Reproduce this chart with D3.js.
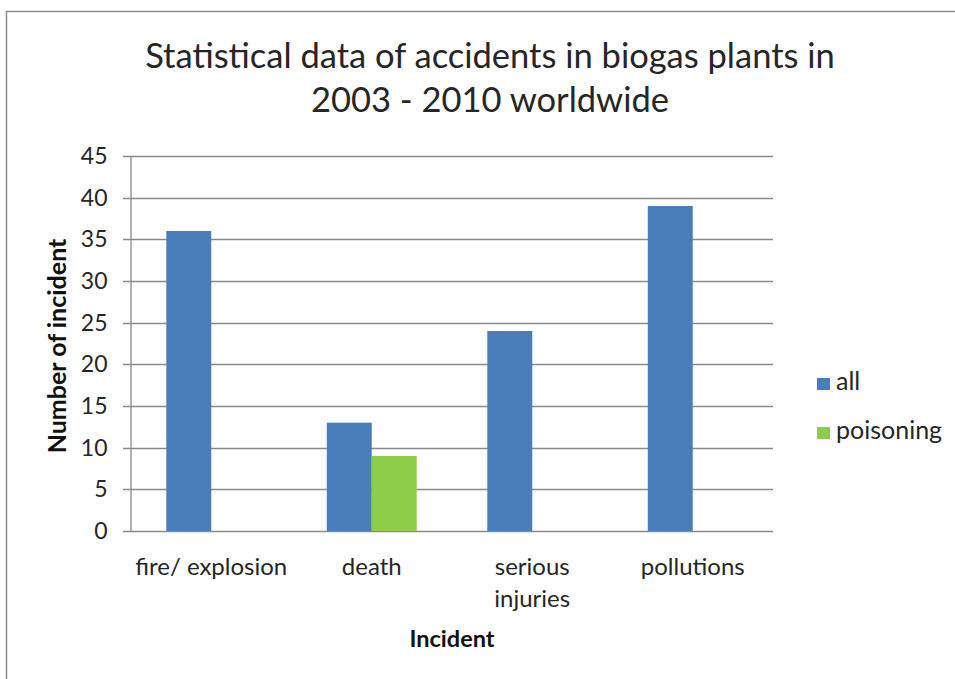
<!DOCTYPE html>
<html>
<head>
<meta charset="utf-8">
<script src="https://cdn.jsdelivr.net/npm/d3@7"></script>
<style>
  html, body { margin: 0; padding: 0; background: #fff; }
  svg { display: block; }
</style>
</head>
<body>
<svg id="chart" width="955" height="679"></svg>
<script>
// Incident categories and counts per series
const categories = ["fire/ explosion", "death", "serious injuries", "pollutions"];
const categoryLines = [["fire/ explosion"], ["death"], ["serious", "injuries"], ["pollutions"]];
const seriesNames = ["all", "poisoning"];
const allValues = [36, 13, 24, 39];
const poisoningValues = [null, 9, null, null];
const yTicks = [0, 5, 10, 15, 20, 25, 30, 35, 40, 45];
const colors = ["#4a7ebb", "#8dcd4a"];

const svg = d3.select("#chart");
const font = "Lato, 'Open Sans', sans-serif";
const textColor = "#262626";

// outer frame (top and left edges)
svg.append("path")
  .attr("d", "M6.5,679 V11.5 H955")
  .attr("fill", "none").attr("stroke", "#8c8c8c").attr("stroke-width", 1.5);

const plot = { left: 131, right: 773, top: 156, bottom: 531 };

const y = d3.scaleLinear().domain([0, 45]).range([plot.bottom, plot.top]);
const x0 = d3.scaleBand().domain(categories).range([plot.left, plot.right]).paddingInner(0.44).paddingOuter(0.22);
const x1 = d3.scaleBand().domain(seriesNames).range([0, x0.bandwidth()]);

// gridlines
svg.append("g").selectAll("line").data(yTicks).join("line")
  .attr("x1", plot.left - 8).attr("x2", plot.right)
  .attr("y1", d => Math.round(y(d)) + 0.5).attr("y2", d => Math.round(y(d)) + 0.5)
  .attr("stroke", "#8a8a8a").attr("stroke-width", 1.3);

// y axis
const yAxis = svg.append("g").attr("transform", `translate(${plot.left - 0.5},0)`)
  .call(d3.axisLeft(y).tickValues(yTicks).tickSize(0).tickPadding(23));
yAxis.select(".domain").attr("stroke", "#8a8a8a").attr("stroke-width", 1.3);
yAxis.selectAll("text").attr("font-family", font).attr("font-size", 23).attr("fill", textColor);

// bars
const seriesData = [allValues, poisoningValues];
const groups = svg.append("g").selectAll("g").data(categories).join("g")
  .attr("transform", d => `translate(${x0(d)},0)`);
groups.selectAll("rect")
  .data((c, i) => seriesNames.map((s, k) => ({ s, k, v: seriesData[k][i] })).filter(d => d.v != null))
  .join("rect")
  .attr("x", d => x1(d.s)).attr("width", x1.bandwidth())
  .attr("y", d => y(d.v)).attr("height", d => y(0) - y(d.v))
  .attr("fill", d => colors[d.k]);

// x category labels
const xl = svg.append("g").selectAll("text").data(categories).join("text")
  .attr("x", d => x0(d) + x0.bandwidth() / 2)
  .attr("y", 575)
  .attr("text-anchor", "middle")
  .attr("font-family", font).attr("font-size", 24).attr("fill", textColor);
xl.each(function(d, i) {
  d3.select(this).selectAll("tspan").data(categoryLines[i]).join("tspan")
    .attr("x", x0(d) + x0.bandwidth() / 2)
    .attr("dy", (t, j) => j === 0 ? 0 : 32)
    .text(t => t);
});

// axis titles
svg.append("text").attr("x", 452).attr("y", 647).attr("text-anchor", "middle")
  .attr("font-family", font).attr("font-weight", "bold").attr("font-size", 23.5).attr("fill", "#111")
  .text("Incident");
svg.append("text").attr("transform", "translate(66,346) rotate(-90)").attr("text-anchor", "middle")
  .attr("font-family", font).attr("font-weight", "bold").attr("font-size", 25).attr("fill", "#111")
  .text("Number of incident");

// chart title
const title = svg.append("text").attr("text-anchor", "middle")
  .attr("font-family", font).attr("font-size", 34.5).attr("fill", textColor);
title.append("tspan").attr("x", 490).attr("y", 68).text("Statistical data of accidents in biogas plants in");
title.append("tspan").attr("x", 490).attr("y", 112).text("2003 - 2010 worldwide");

// legend
const legend = svg.append("g").selectAll("g").data(seriesNames).join("g")
  .attr("transform", (d, i) => `translate(817,${378 + i * 49})`);
legend.append("rect").attr("width", 13).attr("height", 12).attr("fill", (d, i) => colors[i]);
legend.append("text").attr("x", 19).attr("y", 12)
  .attr("font-family", font).attr("font-size", 25).attr("fill", textColor).text(d => d);
</script>
</body>
</html>
